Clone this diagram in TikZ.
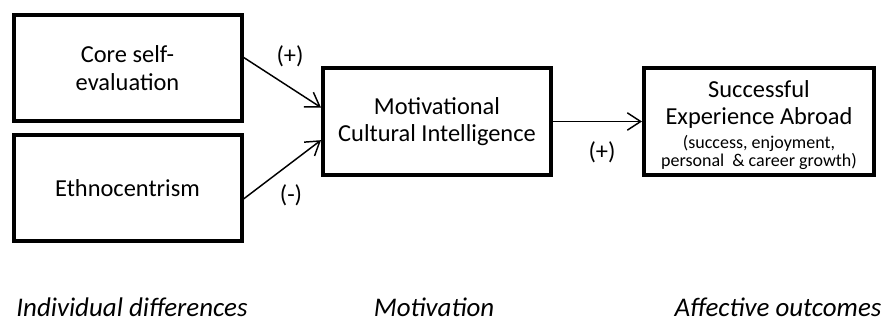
\documentclass[tikz,border=0pt]{standalone}
\usepackage{fontspec}
\setmainfont{Carlito}
\usetikzlibrary{arrows.meta}

\tikzset{
    box/.style={draw, line width=3pt, minimum width=171pt, minimum height=80pt,
	align=center, inner sep=0pt, font=\fontsize{18.3}{20.5}\selectfont},
    link/.style={-{Straight Barb[length=10pt, width=13pt]}, line width=1.1pt},
    sign/.style={font=\fontsize{18.3}{20}\selectfont},
    stage/.style={font=\fontsize{20.2}{24}\selectfont\itshape}
}

\begin{document}
\begin{tikzpicture}[x=0.75pt, y=-0.75pt]
    \useasboundingbox (0, 0) rectangle (883, 322);

    \node [box] (cse) at (127.5, 68) {Core self-\\evaluation};
    \node [box] (eth) at (127.5, 188) {Ethnocentrism};
    \node [box] (mci) at (437, 121.5) {Motivational\\Cultural Intelligence};
    \node [box, minimum width=172.5pt] (sea) at (759, 121.5) {};
    \node [align=center, inner sep=0pt, font=\fontsize{18.3}{20.5}\selectfont]
	(seatext) at (759, 125)
	{Successful\\Experience Abroad\\[-3pt]
	{\fontsize{13.5}{15}\selectfont (success, enjoyment,}\\[-7pt]
	{\fontsize{13.5}{15}\selectfont personal~ \& career growth)}};

    \draw [link] ([yshift=8pt]cse.east) -- ([yshift=10.5pt]mci.west);
    \draw [link] ([yshift=-8.25pt]eth.east) -- ([yshift=-14pt]mci.west);
    \draw [link] (mci) -- (sea);

    \node [sign] (p1) at (290, 56) {(+)};
    \node [sign] (m1) at (291, 195) {(-)};
    \node [sign] (p2) at (602, 152) {(+)};

    \node [stage] (ind) at (132, 307) {Individual differences};
    \node [stage] (mot) at (434, 307) {Motivation};
    \node [stage] (aff) at (778, 307) {Affective outcomes};
\end{tikzpicture}
\end{document}
